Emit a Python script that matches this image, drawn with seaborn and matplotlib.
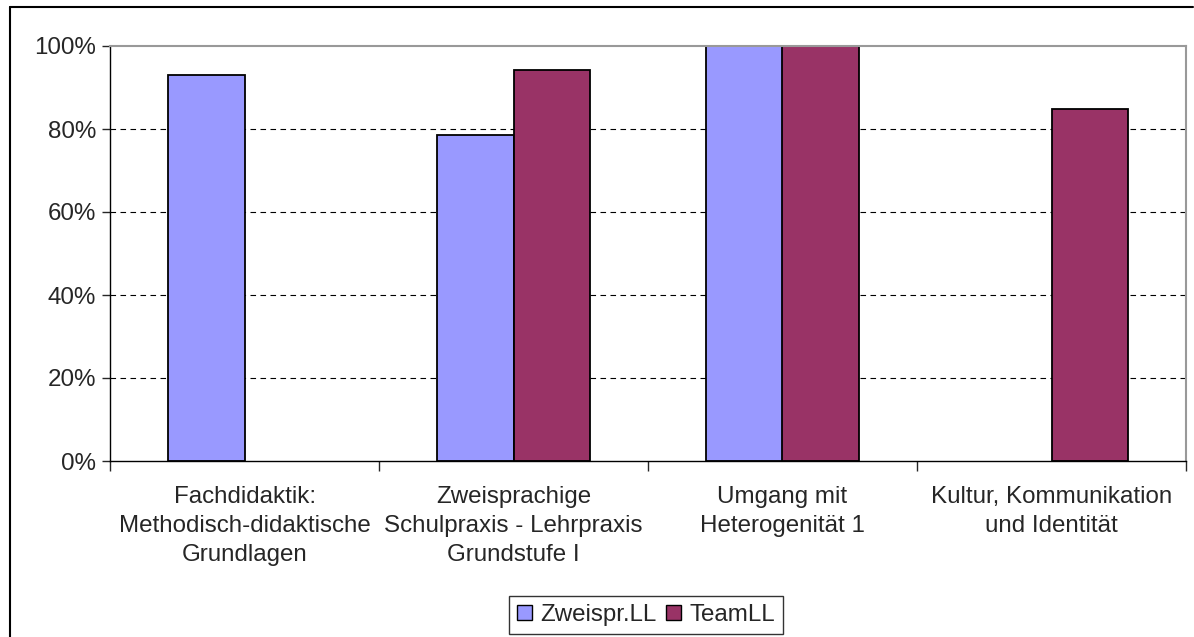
import numpy as np
import pandas as pd
import seaborn as sns
import matplotlib.pyplot as plt
import matplotlib as mpl
from matplotlib.patches import Patch

categories = ['Fachdidaktik:\nMethodisch-didaktische\nGrundlagen',
              'Zweisprachige\nSchulpraxis - Lehrpraxis\nGrundstufe I',
              'Umgang mit\nHeterogenität 1',
              'Kultur, Kommunikation\nund Identität']
zweispr = [93.0, 78.6, 100.0, np.nan]
team = [np.nan, 94.2, 100.0, 84.8]
series = ['Zweispr.LL', 'TeamLL']
colors = ['#9999FF', '#993366']

data = pd.DataFrame({
    'Kategorie': categories * 2,
    'Wert': zweispr + team,
    'Gruppe': [series[0]] * 4 + [series[1]] * 4,
})

sns.set_style('white')
plt.rcParams['font.family'] = ['Liberation Sans', 'DejaVu Sans']
FS = 17.4

fig = plt.figure(figsize=(11.94, 6.37), dpi=100)
ax = fig.add_axes([110 / 1194, 1 - 461 / 637, 1076 / 1194, 415 / 637])

sns.barplot(data=data, x='Kategorie', y='Wert', hue='Gruppe', order=categories,
            hue_order=series, palette=colors, width=0.572, saturation=1,
            edgecolor='black', linewidth=1.3, ax=ax, legend=False)

ax.set_ylim(0, 100)
ax.set_xlim(-0.5, 3.5)
ax.set_yticks([0, 20, 40, 60, 80, 100])
ax.yaxis.set_major_formatter(mpl.ticker.FuncFormatter(lambda v, p: f'{int(v)}%'))
for y in [20, 40, 60, 80]:
    ax.axhline(y, color='black', linestyle=(0, (5, 4)), linewidth=0.8, zorder=0)

ax.set_xticks([-0.5, 0.5, 1.5, 2.5, 3.5], minor=False)
ax.set_xticklabels([])
ax.set_xticks([0, 1, 2, 3], minor=True)
ax.set_xticklabels(categories, minor=True, fontsize=FS, linespacing=1.4)
ax.tick_params(axis='x', which='minor', length=0, pad=18)
ax.tick_params(axis='x', which='major', length=7, width=1, direction='out', bottom=True)
ax.tick_params(axis='y', length=6, width=1, direction='out', left=True, labelsize=FS, pad=4)

ax.set_xlabel('')
ax.set_ylabel('')
for side in ['left', 'bottom']:
    ax.spines[side].set_color('black')
    ax.spines[side].set_linewidth(1)
for side in ['top', 'right']:
    ax.spines[side].set_color('#999999')
    ax.spines[side].set_linewidth(1.5)

handles = [Patch(facecolor=c, edgecolor='black', linewidth=1) for c in colors]
fig.legend(handles, series, loc='center', bbox_to_anchor=(646 / 1194, 1 - 615 / 637),
           ncol=2, fontsize=FS, frameon=True, fancybox=False, edgecolor='black',
           handlelength=0.6, handleheight=0.6, handletextpad=0.35, columnspacing=0.4,
           borderpad=0.35, borderaxespad=0)

# outer chart border
fig.add_artist(plt.Line2D([10 / 1194, 10 / 1194], [0, 1 - 7 / 637], transform=fig.transFigure,
                          color='black', linewidth=1.5))
fig.add_artist(plt.Line2D([10 / 1194, 1193 / 1194], [1 - 7 / 637, 1 - 7 / 637],
                          transform=fig.transFigure, color='black', linewidth=1.5))

plt.savefig('out.png', dpi=100)
